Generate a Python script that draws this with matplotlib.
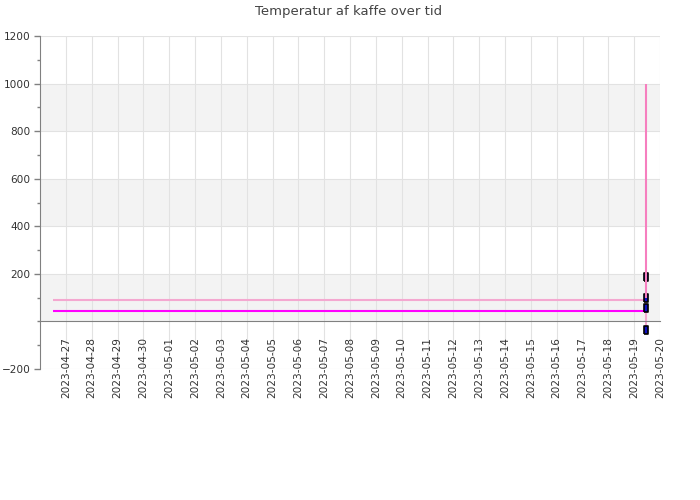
import matplotlib
matplotlib.use("Agg")
import matplotlib.pyplot as plt
import matplotlib.dates as mdates
import numpy as np
import pandas as pd

# ---- data ----
title = "Temperatur af kaffe over tid"
t_start = "2023-04-26 12:00"
t_end = "2023-05-19 11:00"
light_times = [t_start, t_end, t_end]
light_values = [90, 90, -35]
magenta_times = [t_start, t_end, t_end]
magenta_values = [44, 44, 57]
hot_times = [t_end, t_end, t_end]
hot_values = [1000, 187, 100]
tick_dates = pd.date_range("2023-04-27", "2023-05-20", freq="D")
x_limits = ["2023-04-26 00:00", "2023-05-20 00:00"]
y_major = [-200, 200, 400, 600, 800, 1000, 1200]

fig = plt.figure(figsize=(7, 5), dpi=100)
ax = fig.add_axes([40/700, 131/500, 620/700, 333/500])

grid_c = "#e2e2e2"
band_c = "#f3f3f3"
for lo in [0, 400, 800]:
    ax.axhspan(lo, lo + 200, color=band_c, zorder=0, lw=0)

ax.set_xlim(pd.to_datetime(x_limits[0]), pd.to_datetime(x_limits[1]))
ax.set_ylim(-200, 1200)

for d in tick_dates:
    ax.axvline(d, color=grid_c, lw=0.8, zorder=1)
for v in [-200, 200, 400, 600, 800, 1000, 1200]:
    ax.axhline(v, color=grid_c, lw=0.8, zorder=1)

lt = pd.to_datetime(light_times)
mt = pd.to_datetime(magenta_times)
ht = pd.to_datetime(hot_times)

ax.plot(lt, light_values, color="#f4a8d0", lw=1.5, zorder=3, solid_capstyle="butt")
ax.plot(mt, magenta_values, color="#ff00ff", lw=1.5, zorder=3, solid_capstyle="butt")
ax.plot(ht, hot_values, color="#f67fbf", lw=1.5, zorder=4.5, solid_capstyle="butt")

rect = [(-0.4, -1), (0.4, -1), (0.4, 1), (-0.4, 1), (-0.4, -1)]
mk = dict(marker=rect, markersize=5.5, markerfacecolor="#1010c0",
          markeredgecolor="black", markeredgewidth=1.2, linestyle="none", zorder=4)
ax.plot([lt[-1]], [light_values[-1]], **mk)
ax.plot([mt[-1]], [magenta_values[-1]], **mk)
ax.plot(ht[1:], hot_values[1:], **mk)

for s in ["top", "right"]:
    ax.spines[s].set_visible(False)
ax.spines["bottom"].set_position(("data", 0))
ax.spines["bottom"].set_color("#808080")
ax.spines["left"].set_color("#808080")
ax.spines["bottom"].set_zorder(5)

ax.set_xticks(tick_dates)
ax.xaxis.set_major_formatter(mdates.DateFormatter("%Y-%m-%d"))
ax.tick_params(axis="x", length=0, pad=11, labelsize=7.6, labelcolor="#333333",
               labelrotation=90)
for lbl in ax.get_xticklabels():
    lbl.set_verticalalignment("top")

ax.set_yticks(y_major)
ax.set_yticks(np.arange(-200, 1201, 100), minor=True)
ax.tick_params(axis="y", which="major", length=4, width=1, color="#808080",
               labelsize=7.6, labelcolor="#333333", pad=3)
ax.tick_params(axis="y", which="minor", length=2.5, width=1, color="#808080")

fig.suptitle(title, x=349/700, y=1 - 11/500, va="center", fontsize=9.5, color="#444444")

fig.savefig("out.png", dpi=100)
